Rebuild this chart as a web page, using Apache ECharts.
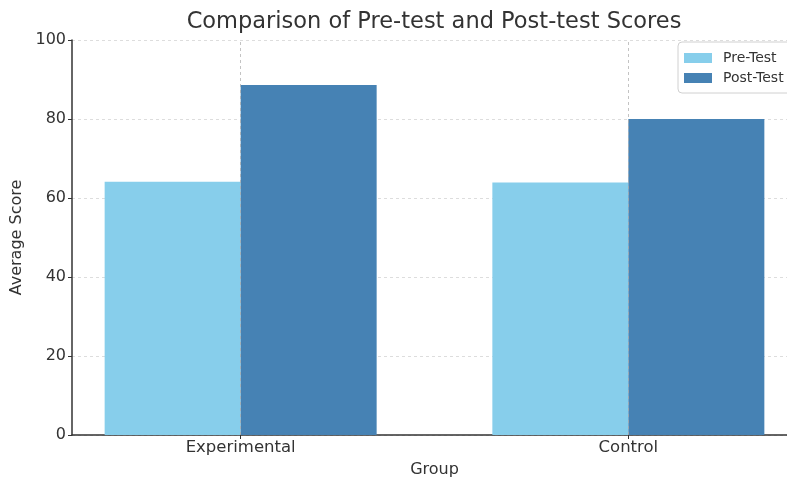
<!DOCTYPE html>
<html>
<head>
<meta charset="utf-8">
<script src="https://cdn.jsdelivr.net/npm/echarts@6/dist/echarts.min.js"></script>
<style>
  html, body { margin: 0; padding: 0; background: #fff; }
  #main { width: 787px; height: 477px; }
</style>
</head>
<body>
<div id="main"></div>
<script>
// groups sit at x = 0 and x = 1 on a value axis (same as the original plot)
const groups = ['Experimental', 'Control'];
const groupPos = [0, 1];
const preTest = [64.1, 63.9];
const postTest = [88.6, 80.0];
const yTicks = [0, 20, 40, 60, 80, 100];

const font = 'DejaVu Sans';

let chart = echarts.init(document.getElementById('main'));

let option = {
  animation: false,
  textStyle: { fontFamily: font },
  title: {
    text: 'Comparison of Pre-test and Post-test Scores',
    left: 429,
    top: 6,
    textAlign: 'center',
    textStyle: { fontSize: 22.5, fontWeight: 'normal', color: '#333', fontFamily: font }
  },
  legend: {
    orient: 'vertical',
    left: 678,
    top: 42,
    itemWidth: 28,
    itemHeight: 10,
    itemGap: 6,
    padding: [9, 8, 8, 6],
    borderColor: '#d0d0d0',
    borderWidth: 1,
    borderRadius: 4,
    backgroundColor: '#fff',
    icon: 'rect',
    textStyle: { fontSize: 14, color: '#333', fontFamily: font, padding: [0, 0, 0, 6] },
    data: ['Pre-Test', 'Post-Test']
  },
  grid: { left: 72, right: -10, top: 40, bottom: 42, outerBoundsMode: 'none' },
  xAxis: {
    type: 'value',
    min: -0.435,
    max: 1.435,
    name: 'Group',
    nameLocation: 'middle',
    nameGap: 27,
    nameTextStyle: { fontSize: 16, color: '#333', fontFamily: font },
    axisLine: { show: true, lineStyle: { color: '#333', width: 1.5 } },
    axisTick: { show: true, customValues: groupPos, length: 4, lineStyle: { color: '#333' } },
    axisLabel: {
      customValues: groupPos,
      fontSize: 16.5,
      color: '#333',
      margin: 4,
      formatter: function (v) { return groups[groupPos.indexOf(v)]; }
    },
    splitLine: { show: false }
  },
  yAxis: {
    type: 'value',
    min: 0,
    max: 100,
    interval: 20,
    name: 'Average Score',
    nameLocation: 'middle',
    nameGap: 46,
    nameTextStyle: { fontSize: 16, color: '#333', fontFamily: font },
    axisLine: { show: true, onZero: false, lineStyle: { color: '#333', width: 1.5 } },
    axisTick: { show: true, length: 4, lineStyle: { color: '#333' } },
    axisLabel: {
      fontSize: 16,
      color: '#333',
      margin: 6,
      formatter: function (v) { return yTicks.indexOf(v) >= 0 ? String(v) : ''; }
    },
    splitLine: { show: true, lineStyle: { color: '#ddd', type: [3, 3], width: 1 } }
  },
  series: [
    {
      name: 'Pre-Test',
      type: 'bar',
      barWidth: 136,
      barGap: '0%',
      itemStyle: { color: '#87CEEB' },
      data: groupPos.map((x, i) => [x, preTest[i]])
    },
    {
      name: 'Post-Test',
      type: 'bar',
      barWidth: 136,
      barGap: '0%',
      itemStyle: { color: '#4682B4' },
      data: groupPos.map((x, i) => [x, postTest[i]])
    },
    {
      // vertical grid lines at the group positions, drawn over the bars
      name: 'xgrid',
      type: 'line',
      data: [],
      z: 10,
      markLine: {
        silent: true,
        symbol: 'none',
        label: { show: false },
        lineStyle: { color: '#aaa', type: [3, 3], width: 1, opacity: 0.7 },
        data: groupPos.map(x => ({ xAxis: x }))
      }
    }
  ]
};

chart.setOption(option);
</script>
</body>
</html>
